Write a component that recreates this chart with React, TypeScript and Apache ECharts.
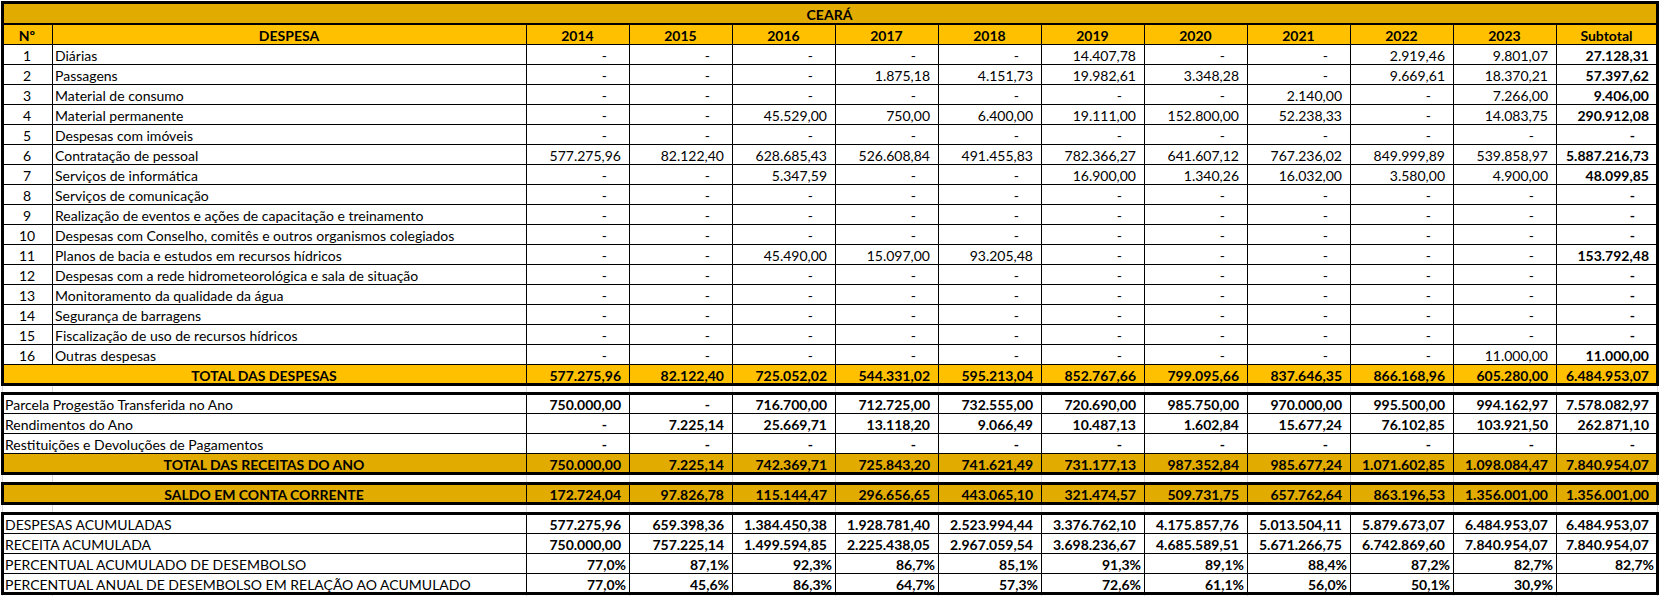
import React, { useEffect, useRef } from "react";
import * as echarts from "echarts";

// ---------------- DATA ----------------
const TITLE = "CEARÁ";
const HEADER_NO = "Nº";
const HEADER_DESC = "DESPESA";
const YEARS = ["2014", "2015", "2016", "2017", "2018", "2019", "2020", "2021", "2022", "2023"];
const HEADER_SUBTOTAL = "Subtotal";

const EXPENSE_LABELS = [
  "Diárias",
  "Passagens",
  "Material de consumo",
  "Material permanente",
  "Despesas com imóveis",
  "Contratação de pessoal",
  "Serviços de informática",
  "Serviços de comunicação",
  "Realização de eventos e ações de capacitação e treinamento",
  "Despesas com Conselho, comitês e outros organismos colegiados",
  "Planos de bacia e estudos em recursos hídricos",
  "Despesas com a rede hidrometeorológica e sala de situação",
  "Monitoramento da qualidade da água",
  "Segurança de barragens",
  "Fiscalização de uso de recursos hídricos",
  "Outras despesas",
];

const N = null;
const EXPENSE_VALUES: (number | null)[][] = [
  [N, N, N, N, N, 14407.78, N, N, 2919.46, 9801.07],
  [N, N, N, 1875.18, 4151.73, 19982.61, 3348.28, N, 9669.61, 18370.21],
  [N, N, N, N, N, N, N, 2140.0, N, 7266.0],
  [N, N, 45529.0, 750.0, 6400.0, 19111.0, 152800.0, 52238.33, N, 14083.75],
  [N, N, N, N, N, N, N, N, N, N],
  [577275.96, 82122.4, 628685.43, 526608.84, 491455.83, 782366.27, 641607.12, 767236.02, 849999.89, 539858.97],
  [N, N, 5347.59, N, N, 16900.0, 1340.26, 16032.0, 3580.0, 4900.0],
  [N, N, N, N, N, N, N, N, N, N],
  [N, N, N, N, N, N, N, N, N, N],
  [N, N, N, N, N, N, N, N, N, N],
  [N, N, 45490.0, 15097.0, 93205.48, N, N, N, N, N],
  [N, N, N, N, N, N, N, N, N, N],
  [N, N, N, N, N, N, N, N, N, N],
  [N, N, N, N, N, N, N, N, N, N],
  [N, N, N, N, N, N, N, N, N, N],
  [N, N, N, N, N, N, N, N, N, 11000.0],
];
const EXPENSE_SUBTOTALS: (number | null)[] = [
  27128.31, 57397.62, 9406.0, 290912.08, N, 5887216.73, 48099.85, N, N, N, 153792.48, N, N, N, N, 11000.0,
];

const TOTAL_EXPENSES_LABEL = "TOTAL DAS DESPESAS";
const TOTAL_EXPENSES = [577275.96, 82122.4, 725052.02, 544331.02, 595213.04, 852767.66, 799095.66, 837646.35, 866168.96, 605280.0];
const TOTAL_EXPENSES_SUBTOTAL = 6484953.07;

const REVENUE_LABELS = [
  "Parcela Progestão Transferida no Ano",
  "Rendimentos do Ano",
  "Restituições e Devoluções de Pagamentos",
];
const REVENUE_VALUES: (number | null)[][] = [
  [750000.0, N, 716700.0, 712725.0, 732555.0, 720690.0, 985750.0, 970000.0, 995500.0, 994162.97],
  [N, 7225.14, 25669.71, 13118.2, 9066.49, 10487.13, 1602.84, 15677.24, 76102.85, 103921.5],
  [N, N, N, N, N, N, N, N, N, N],
];
const REVENUE_SUBTOTALS: (number | null)[] = [7578082.97, 262871.1, N];

const TOTAL_REVENUE_LABEL = "TOTAL DAS RECEITAS DO ANO";
const TOTAL_REVENUE = [750000.0, 7225.14, 742369.71, 725843.2, 741621.49, 731177.13, 987352.84, 985677.24, 1071602.85, 1098084.47];
const TOTAL_REVENUE_SUBTOTAL = 7840954.07;

const BALANCE_LABEL = "SALDO EM CONTA CORRENTE";
const BALANCE = [172724.04, 97826.78, 115144.47, 296656.65, 443065.1, 321474.57, 509731.75, 657762.64, 863196.53, 1356001.0];
const BALANCE_SUBTOTAL = 1356001.0;

const ACCUM_EXPENSES_LABEL = "DESPESAS ACUMULADAS";
const ACCUM_EXPENSES = [577275.96, 659398.36, 1384450.38, 1928781.4, 2523994.44, 3376762.1, 4175857.76, 5013504.11, 5879673.07, 6484953.07];
const ACCUM_EXPENSES_SUBTOTAL = 6484953.07;

const ACCUM_REVENUE_LABEL = "RECEITA ACUMULADA";
const ACCUM_REVENUE = [750000.0, 757225.14, 1499594.85, 2225438.05, 2967059.54, 3698236.67, 4685589.51, 5671266.75, 6742869.6, 7840954.07];
const ACCUM_REVENUE_SUBTOTAL = 7840954.07;

const PCT_ACCUM_LABEL = "PERCENTUAL ACUMULADO DE DESEMBOLSO";
const PCT_ACCUM = [77.0, 87.1, 92.3, 86.7, 85.1, 91.3, 89.1, 88.4, 87.2, 82.7];
const PCT_ACCUM_SUBTOTAL: number | undefined = 82.7;

const PCT_ANNUAL_LABEL = "PERCENTUAL ANUAL DE DESEMBOLSO EM RELAÇÃO AO ACUMULADO";
const PCT_ANNUAL = [77.0, 45.6, 86.3, 64.7, 57.3, 72.6, 61.1, 56.0, 50.1, 30.9];
const PCT_ANNUAL_SUBTOTAL: number | undefined = undefined;

// ---------------- LAYOUT / STYLE ----------------
const W = 1660;
const H = 596;
const COL_EDGES = [2, 52, 526, 629, 732, 835, 938, 1041, 1144, 1247, 1350, 1453, 1556, 1657];
const ROW_H = 20;
const TITLE_Y = [2, 24];
const HEADER_Y = [24, 44];
const DATA_Y0 = 44;
const TOTAL_Y0 = 364;
const REV_Y0 = 393;
const BAL_Y0 = 483;
const ACC_Y0 = 513;
const BOXES = [
  [2, 2, 1657, 384],
  [2, 393, 1657, 473],
  [2, 483, 1657, 503],
  [2, 513, 1657, 593],
];
const GAPS = [
  [384, 393],
  [473, 483],
  [503, 513],
  [593, 596],
];

const GOLD_DARK = "#E2AB00";
const GOLD = "#FFC000";
const WHITE = "#FFFFFF";
const FONT = 'Lato, "Liberation Sans", sans-serif';
const FS = 14;

type Align = "left" | "center" | "right";
type Cell = {
  x0: number; x1: number; y0: number; y1: number;
  fill: string; text: string; align: Align; bold: boolean; pad: number; border: boolean;
};

function fmtNum(v: number): string {
  const s = v.toFixed(2);
  const [i, d] = s.split(".");
  return i.replace(/\B(?=(\d{3})+(?!\d))/g, ".") + "," + d;
}
function fmtPct(v: number): string {
  return v.toFixed(1).replace(".", ",") + "%";
}

function buildCells(): Cell[] {
  const cells: Cell[] = [];
  const add = (c0: number, c1: number, y0: number, y1: number, fill: string, text: string, align: Align, bold: boolean, pad = 3, border = true) => {
    cells.push({ x0: COL_EDGES[c0], x1: COL_EDGES[c1], y0, y1, fill, text, align, bold, pad, border });
  };
  const addVal = (col: number, y0: number, v: number | null | undefined, bold: boolean, fill: string, pct = false) => {
    if (v === null) add(col, col + 1, y0, y0 + ROW_H, fill, "-", "right", bold, 22);
    else if (v === undefined) add(col, col + 1, y0, y0 + ROW_H, fill, "", "right", bold, 8);
    else if (pct) add(col, col + 1, y0, y0 + ROW_H, fill, fmtPct(v), "right", bold, 3);
    else add(col, col + 1, y0, y0 + ROW_H, fill, fmtNum(v), "right", bold, 8);
  };

  // title
  add(0, 13, TITLE_Y[0], TITLE_Y[1], GOLD_DARK, TITLE, "center", true);
  // header
  add(0, 1, HEADER_Y[0], HEADER_Y[1], GOLD, HEADER_NO, "center", true);
  add(1, 2, HEADER_Y[0], HEADER_Y[1], GOLD, HEADER_DESC, "center", true);
  YEARS.forEach((y, i) => add(2 + i, 3 + i, HEADER_Y[0], HEADER_Y[1], GOLD, y, "center", true));
  add(12, 13, HEADER_Y[0], HEADER_Y[1], GOLD, HEADER_SUBTOTAL, "center", true);

  // expense rows
  EXPENSE_LABELS.forEach((lab, r) => {
    const y0 = DATA_Y0 + r * ROW_H;
    add(0, 1, y0, y0 + ROW_H, WHITE, String(r + 1), "center", false);
    add(1, 2, y0, y0 + ROW_H, WHITE, lab, "left", false, 3);
    EXPENSE_VALUES[r].forEach((v, i) => addVal(2 + i, y0, v, false, WHITE));
    addVal(12, y0, EXPENSE_SUBTOTALS[r], true, WHITE);
  });

  // total expenses
  add(0, 2, TOTAL_Y0, TOTAL_Y0 + ROW_H, GOLD, TOTAL_EXPENSES_LABEL, "center", true);
  TOTAL_EXPENSES.forEach((v, i) => addVal(2 + i, TOTAL_Y0, v, true, GOLD));
  addVal(12, TOTAL_Y0, TOTAL_EXPENSES_SUBTOTAL, true, GOLD);

  // revenues
  REVENUE_LABELS.forEach((lab, r) => {
    const y0 = REV_Y0 + r * ROW_H;
    add(0, 2, y0, y0 + ROW_H, WHITE, lab, "left", false, 3);
    REVENUE_VALUES[r].forEach((v, i) => addVal(2 + i, y0, v, true, WHITE));
    addVal(12, y0, REVENUE_SUBTOTALS[r], true, WHITE);
  });
  const ty = REV_Y0 + 3 * ROW_H;
  add(0, 2, ty, ty + ROW_H, GOLD_DARK, TOTAL_REVENUE_LABEL, "center", true);
  TOTAL_REVENUE.forEach((v, i) => addVal(2 + i, ty, v, true, GOLD_DARK));
  addVal(12, ty, TOTAL_REVENUE_SUBTOTAL, true, GOLD_DARK);

  // balance
  add(0, 2, BAL_Y0, BAL_Y0 + ROW_H, GOLD_DARK, BALANCE_LABEL, "center", true);
  BALANCE.forEach((v, i) => addVal(2 + i, BAL_Y0, v, true, GOLD_DARK));
  addVal(12, BAL_Y0, BALANCE_SUBTOTAL, true, GOLD_DARK);

  // accumulated
  const accRows: [string, number[], number | undefined, boolean][] = [
    [ACCUM_EXPENSES_LABEL, ACCUM_EXPENSES, ACCUM_EXPENSES_SUBTOTAL, false],
    [ACCUM_REVENUE_LABEL, ACCUM_REVENUE, ACCUM_REVENUE_SUBTOTAL, false],
    [PCT_ACCUM_LABEL, PCT_ACCUM, PCT_ACCUM_SUBTOTAL, true],
    [PCT_ANNUAL_LABEL, PCT_ANNUAL, PCT_ANNUAL_SUBTOTAL, true],
  ];
  accRows.forEach(([lab, vals, sub, pct], r) => {
    const y0 = ACC_Y0 + r * ROW_H;
    add(0, 2, y0, y0 + ROW_H, WHITE, lab, "left", false, 3);
    vals.forEach((v, i) => addVal(2 + i, y0, v, true, WHITE, pct));
    addVal(12, y0, sub, true, WHITE, pct);
  });
  return cells;
}

export default function App() {
  const ref = useRef<HTMLDivElement>(null);
  useEffect(() => {
    document.body.style.margin = "0";
    if (!ref.current) return;
    const chart = echarts.init(ref.current, undefined, { renderer: "svg" });
    const cells = buildCells();

    const gridLines: number[][] = [];
    GAPS.forEach(([g0, g1]) => COL_EDGES.forEach((x) => gridLines.push([x, g0, x, g1])));

    chart.setOption({
      animation: false,
      backgroundColor: "#FFFFFF",
      grid: { left: 0, right: 0, top: 0, bottom: 0 },
      xAxis: { type: "value", min: 0, max: W, show: false },
      yAxis: { type: "value", min: 0, max: H, inverse: true, show: false },
      series: [
        {
          type: "custom",
          name: "gridlines",
          silent: true,
          clip: false,
          data: gridLines,
          renderItem: (params: any, api: any) => {
            const g = gridLines[params.dataIndex];
            const p0 = api.coord([g[0], g[1]]);
            const p1 = api.coord([g[2], g[3]]);
            return {
              type: "line",
              shape: { x1: p0[0] + 0.5, y1: p0[1], x2: p1[0] + 0.5, y2: p1[1] },
              style: { stroke: "#D9D9D9", lineWidth: 1 },
            };
          },
        },
        {
          type: "custom",
          name: "cells",
          silent: true,
          clip: false,
          data: cells.map((c) => [c.x0, c.y0, c.x1, c.y1]),
          renderItem: (params: any, api: any) => {
            const c = cells[params.dataIndex];
            const p0 = api.coord([c.x0, c.y0]);
            const p1 = api.coord([c.x1, c.y1]);
            const children: any[] = [
              {
                type: "rect",
                shape: { x: p0[0] + 0.5, y: p0[1] + 0.5, width: p1[0] - p0[0], height: p1[1] - p0[1] },
                style: { fill: c.fill, stroke: "#000000", lineWidth: 1 },
              },
            ];
            if (c.text) {
              const tx = c.align === "left" ? p0[0] + c.pad : c.align === "right" ? p1[0] - c.pad : (p0[0] + p1[0]) / 2;
              children.push({
                type: "text",
                style: {
                  text: c.text,
                  x: tx,
                  y: (p0[1] + p1[1]) / 2 + 1,
                  align: c.align,
                  verticalAlign: "middle",
                  fill: "#000000",
                  fontFamily: FONT,
                  fontSize: FS,
                  fontWeight: c.bold ? "bold" : "normal",
                },
              });
            }
            return { type: "group", children };
          },
        },
        {
          type: "custom",
          name: "borders",
          silent: true,
          clip: false,
          data: BOXES,
          renderItem: (params: any, api: any) => {
            const b = BOXES[params.dataIndex];
            const p0 = api.coord([b[0], b[1]]);
            const p1 = api.coord([b[2], b[3]]);
            const children: any[] = [
              {
                type: "rect",
                shape: { x: p0[0] + 0.5, y: p0[1] + 0.5, width: p1[0] - p0[0], height: p1[1] - p0[1] },
                style: { fill: "none", stroke: "#000000", lineWidth: 3 },
              },
            ];
            if (params.dataIndex === 0) {
              const a = api.coord([b[0], TITLE_Y[1]]);
              const z = api.coord([b[2], TITLE_Y[1]]);
              children.push({
                type: "line",
                shape: { x1: a[0], y1: a[1], x2: z[0], y2: z[1] },
                style: { stroke: "#000000", lineWidth: 2 },
              });
            }
            return { type: "group", children };
          },
        },
      ],
    });
    return () => chart.dispose();
  }, []);
  return <div ref={ref} style={{ width: W, height: H }} />;
}
